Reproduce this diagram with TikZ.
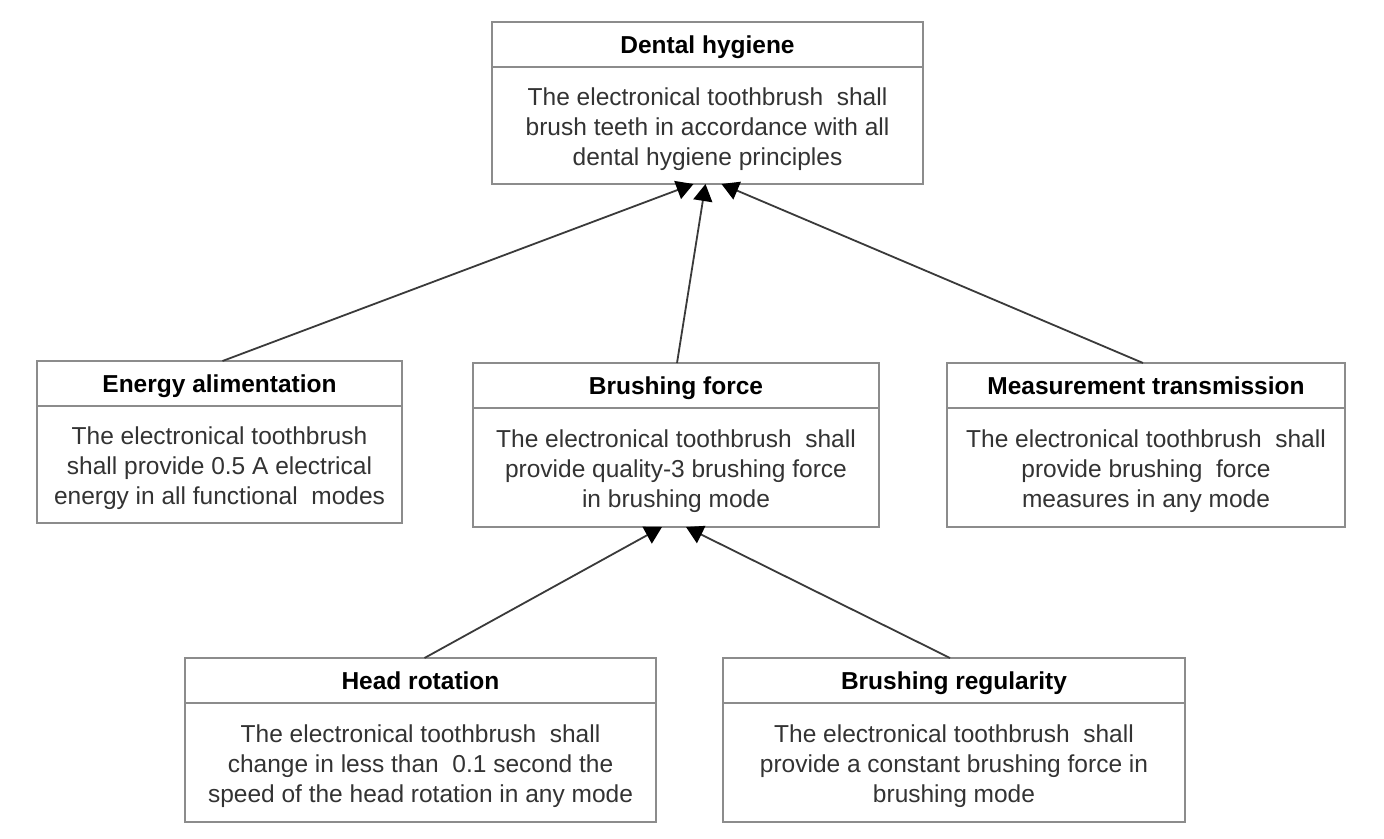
\documentclass[tikz,border=0pt]{standalone}
\usepackage{fontspec}
\setmainfont{Liberation Sans}
\usetikzlibrary{arrows.meta,calc}
\definecolor{boxgray}{HTML}{8C8C8C}
\definecolor{conngray}{HTML}{3A3A3A}
\definecolor{txtgray}{HTML}{333333}
\newcommand\reqbox[7]{%
  \node[box, minimum width=#4pt, minimum height=#5pt] (#1) at (#2,#3) {};
  \draw[boxline] ([yshift=-45pt]#1.north west) -- ([yshift=-45pt]#1.north east);
  \node[titletext, anchor=base] (#1-t) at ([yshift=-31pt]#1.north) {#6};
  \node[bodytext] (#1-b) at ($(#1.south)!0.5!([yshift=-45pt]#1.north) + (0,4)$) {#7};
}
\begin{document}
\begin{tikzpicture}[x=1pt,y=-1pt,
  box/.style={draw=boxgray, line width=1.6pt, fill=white, inner sep=0pt, outer sep=0pt, rectangle},
  boxline/.style={draw=boxgray, line width=1.4pt},
  titletext/.style={font=\fontsize{24.5}{30}\selectfont\bfseries, text=black, inner sep=0pt},
  bodytext/.style={font=\fontsize{24.5}{30}\selectfont, text=txtgray, align=center, inner sep=0pt},
  conn/.style={draw=conngray, line width=1.8pt, -{Triangle[length=17pt,width=19pt,fill=black,color=black]}}
]
\useasboundingbox[fill=white] (0,0) rectangle (1384,838);

\reqbox{top}{707.5}{103}{431}{162}{Dental hygiene}{The electronical toothbrush\ \ shall\\brush teeth in accordance with all\\dental hygiene principles}
\reqbox{energy}{219.5}{442}{365}{162}{Energy alimentation}{The electronical toothbrush\\shall provide 0.5 A electrical\\energy in all functional\ \ modes}
\reqbox{brush}{676}{445}{406}{164}{Brushing force}{The electronical toothbrush\ \ shall\\provide quality-3 brushing force\\in brushing mode}
\reqbox{meas}{1146}{445}{398}{164}{Measurement transmission}{The electronical toothbrush\ \ shall\\provide brushing\ \ force\\measures in any mode}
\reqbox{head}{420.5}{740}{471}{164}{Head rotation}{The electronical toothbrush\ \ shall\\change in less than\ \ 0.1 second the\\speed of the head rotation in any mode}
\reqbox{reg}{954}{740}{462}{164}{Brushing regularity}{The electronical toothbrush\ \ shall\\provide a constant brushing force in\\brushing mode}

\draw[conn] ([xshift=3pt]energy.north) -- ([xshift=-14pt]top.south);
\draw[conn] ([xshift=1pt]brush.north) -- ([xshift=-2pt]top.south);
\draw[conn] ([xshift=-3pt]meas.north) -- ([xshift=14pt]top.south);
\draw[conn] ([xshift=4pt]head.north) -- ([xshift=-14pt]brush.south);
\draw[conn] ([xshift=-4pt]reg.north) -- ([xshift=10pt]brush.south);
\end{tikzpicture}
\end{document}
